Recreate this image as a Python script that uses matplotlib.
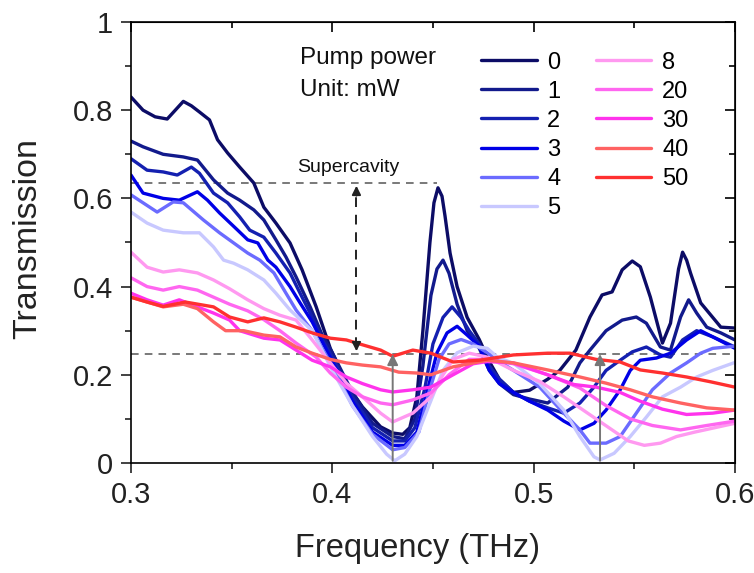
import numpy as np
import matplotlib
matplotlib.use("Agg")
import matplotlib.pyplot as plt

plt.rcParams['font.family'] = ['Liberation Sans', 'DejaVu Sans']

powers = ["0", "1", "2", "3", "4", "5", "8", "20", "30", "40", "50"]
colors = ['#0c0c66', '#121a8c', '#1420b0', '#0000e6', '#6b6bff', '#c8c8ff',
          '#ff99f0', '#ff66f0', '#ff33ec', '#ff6262', '#ff3030']

x0 = [0.300, 0.306, 0.312, 0.318, 0.322, 0.326, 0.330, 0.334, 0.339, 0.343, 0.348, 0.354, 0.361, 0.366,
      0.372, 0.379, 0.385, 0.392, 0.399, 0.407, 0.415, 0.424, 0.430, 0.435, 0.4385, 0.442, 0.445, 0.4485,
      0.4505, 0.4525, 0.4545, 0.456, 0.4585, 0.462, 0.467, 0.473, 0.478, 0.483, 0.490, 0.498, 0.507, 0.513,
      0.521, 0.528, 0.534, 0.539, 0.544, 0.549, 0.553, 0.558, 0.564, 0.568, 0.572, 0.574, 0.576, 0.578,
      0.583, 0.593, 0.600]
y0 = [0.83, 0.80, 0.785, 0.78, 0.80, 0.82, 0.81, 0.796, 0.778, 0.733, 0.703, 0.671, 0.635, 0.58,
      0.544, 0.499, 0.438, 0.354, 0.26, 0.18, 0.127, 0.082, 0.068, 0.065, 0.08, 0.15, 0.30, 0.50,
      0.59, 0.624, 0.605, 0.56, 0.476, 0.40, 0.33, 0.28, 0.23, 0.19, 0.16, 0.165, 0.19, 0.21,
      0.256, 0.331, 0.381, 0.388, 0.438, 0.458, 0.445, 0.376, 0.272, 0.317, 0.44, 0.478, 0.46, 0.43,
      0.363, 0.308, 0.306]

x1 = [0.300, 0.306, 0.316, 0.326, 0.333, 0.341, 0.348, 0.354, 0.361, 0.366, 0.372, 0.377, 0.382, 0.389,
      0.395, 0.400, 0.410, 0.420, 0.430, 0.436, 0.441, 0.445, 0.449, 0.452, 0.455, 0.458, 0.462, 0.467,
      0.473, 0.478, 0.483, 0.490, 0.498, 0.507, 0.517, 0.523, 0.528, 0.536, 0.544, 0.551, 0.556, 0.563,
      0.568, 0.573, 0.577, 0.581, 0.586, 0.593, 0.600]
y1 = [0.73, 0.717, 0.70, 0.694, 0.687, 0.642, 0.612, 0.596, 0.574, 0.551, 0.506, 0.467, 0.422, 0.354,
      0.29, 0.25, 0.16, 0.09, 0.06, 0.055, 0.10, 0.22, 0.38, 0.44, 0.46, 0.43, 0.36, 0.30,
      0.26, 0.21, 0.18, 0.155, 0.145, 0.136, 0.172, 0.227, 0.256, 0.30, 0.324, 0.331, 0.317, 0.263,
      0.256, 0.331, 0.37, 0.34, 0.308, 0.295, 0.279]

x2 = [0.300, 0.308, 0.316, 0.323, 0.330, 0.334, 0.341, 0.348, 0.354, 0.359, 0.366, 0.372, 0.379, 0.384,
      0.389, 0.395, 0.400, 0.410, 0.420, 0.430, 0.436, 0.441, 0.446, 0.450, 0.455, 0.4595, 0.464, 0.468,
      0.473, 0.478, 0.483, 0.490, 0.498, 0.507, 0.515, 0.523, 0.530, 0.536, 0.543, 0.549, 0.556, 0.563,
      0.568, 0.574, 0.581, 0.589, 0.600]
y2 = [0.69, 0.664, 0.66, 0.653, 0.671, 0.657, 0.612, 0.59, 0.558, 0.528, 0.512, 0.476, 0.431, 0.385,
      0.34, 0.28, 0.24, 0.15, 0.08, 0.05, 0.05, 0.08, 0.17, 0.27, 0.33, 0.354, 0.33, 0.30,
      0.27, 0.22, 0.19, 0.16, 0.14, 0.125, 0.113, 0.136, 0.172, 0.21, 0.233, 0.252, 0.263, 0.245,
      0.24, 0.279, 0.30, 0.286, 0.263]

x3 = [0.300, 0.306, 0.316, 0.324, 0.333, 0.338, 0.344, 0.353, 0.358, 0.363, 0.368, 0.372, 0.379, 0.384,
      0.390, 0.400, 0.410, 0.420, 0.430, 0.436, 0.442, 0.447, 0.452, 0.457, 0.462, 0.467, 0.473, 0.478,
      0.483, 0.490, 0.498, 0.507, 0.515, 0.523, 0.530, 0.536, 0.543, 0.548, 0.553, 0.561, 0.568, 0.576,
      0.583, 0.589, 0.600]
y3 = [0.653, 0.612, 0.60, 0.596, 0.615, 0.596, 0.567, 0.528, 0.506, 0.499, 0.46, 0.444, 0.40, 0.363,
      0.32, 0.23, 0.14, 0.07, 0.04, 0.04, 0.07, 0.16, 0.25, 0.295, 0.31, 0.29, 0.265, 0.21,
      0.18, 0.16, 0.14, 0.12, 0.095, 0.075, 0.09, 0.12, 0.166, 0.21, 0.233, 0.238, 0.249, 0.279,
      0.30, 0.286, 0.26]

x4 = [0.300, 0.306, 0.313, 0.321, 0.326, 0.336, 0.344, 0.351, 0.358, 0.364, 0.371, 0.377, 0.382, 0.390,
      0.400, 0.410, 0.420, 0.430, 0.436, 0.443, 0.448, 0.453, 0.458, 0.464, 0.470, 0.477, 0.483, 0.490,
      0.503, 0.515, 0.523, 0.528, 0.536, 0.543, 0.551, 0.559, 0.568, 0.576, 0.583, 0.589, 0.600]
y4 = [0.608, 0.59, 0.569, 0.592, 0.59, 0.551, 0.522, 0.499, 0.476, 0.46, 0.431, 0.385, 0.347, 0.30,
      0.22, 0.13, 0.065, 0.03, 0.035, 0.07, 0.16, 0.235, 0.27, 0.28, 0.27, 0.25, 0.23, 0.21,
      0.172, 0.113, 0.075, 0.045, 0.045, 0.06, 0.113, 0.166, 0.204, 0.227, 0.249, 0.26, 0.265]

x5 = [0.300, 0.308, 0.316, 0.326, 0.334, 0.341, 0.346, 0.351, 0.358, 0.366, 0.372, 0.379, 0.390, 0.400,
      0.410, 0.420, 0.427, 0.431, 0.436, 0.442, 0.448, 0.455, 0.462, 0.470, 0.477, 0.482, 0.490, 0.503,
      0.515, 0.523, 0.530, 0.533, 0.540, 0.548, 0.556, 0.564, 0.573, 0.581, 0.589, 0.600]
y5 = [0.569, 0.544, 0.528, 0.522, 0.522, 0.49, 0.46, 0.453, 0.438, 0.415, 0.385, 0.347, 0.30, 0.21,
      0.13, 0.06, 0.02, 0.005, 0.02, 0.06, 0.13, 0.21, 0.25, 0.265, 0.26, 0.24, 0.226, 0.18,
      0.12, 0.06, 0.014, 0.007, 0.022, 0.06, 0.104, 0.15, 0.172, 0.195, 0.21, 0.228]

x8 = [0.300, 0.308, 0.316, 0.324, 0.333, 0.341, 0.349, 0.358, 0.366, 0.374, 0.382, 0.390, 0.399, 0.407,
      0.415, 0.424, 0.430, 0.440, 0.449, 0.455, 0.460, 0.468, 0.477, 0.490, 0.503, 0.515, 0.523, 0.531,
      0.539, 0.547, 0.555, 0.563, 0.571, 0.580, 0.590, 0.600]
y8 = [0.478, 0.444, 0.433, 0.438, 0.431, 0.415, 0.395, 0.37, 0.35, 0.335, 0.324, 0.279, 0.227, 0.181,
      0.15, 0.113, 0.093, 0.113, 0.15, 0.20, 0.235, 0.249, 0.24, 0.21, 0.185, 0.15, 0.125, 0.10,
      0.075, 0.05, 0.04, 0.045, 0.06, 0.07, 0.08, 0.09]

x20 = [0.300, 0.308, 0.316, 0.324, 0.333, 0.341, 0.349, 0.358, 0.366, 0.374, 0.382, 0.392, 0.399, 0.407,
       0.415, 0.424, 0.430, 0.440, 0.449, 0.458, 0.468, 0.477, 0.490, 0.507, 0.523, 0.536, 0.548, 0.559,
       0.573, 0.586, 0.600]
y20 = [0.42, 0.40, 0.392, 0.40, 0.392, 0.376, 0.36, 0.345, 0.325, 0.30, 0.272, 0.24, 0.204, 0.172,
       0.15, 0.136, 0.132, 0.143, 0.159, 0.20, 0.235, 0.235, 0.225, 0.20, 0.17, 0.13, 0.10, 0.085,
       0.075, 0.085, 0.095]

x30 = [0.300, 0.308, 0.316, 0.324, 0.333, 0.341, 0.349, 0.354, 0.366, 0.374, 0.382, 0.390, 0.399, 0.407,
       0.415, 0.424, 0.430, 0.440, 0.449, 0.460, 0.470, 0.477, 0.490, 0.507, 0.520, 0.531, 0.543, 0.553,
       0.564, 0.576, 0.589, 0.600]
y30 = [0.385, 0.37, 0.358, 0.37, 0.354, 0.34, 0.324, 0.30, 0.283, 0.279, 0.256, 0.233, 0.218, 0.195,
       0.18, 0.166, 0.161, 0.166, 0.172, 0.20, 0.225, 0.23, 0.227, 0.20, 0.178, 0.172, 0.16, 0.14,
       0.122, 0.11, 0.113, 0.12]

x40 = [0.300, 0.308, 0.316, 0.326, 0.333, 0.341, 0.347, 0.356, 0.366, 0.374, 0.382, 0.390, 0.399, 0.407,
       0.415, 0.424, 0.433, 0.442, 0.449, 0.460, 0.477, 0.490, 0.507, 0.523, 0.536, 0.548, 0.559, 0.573,
       0.586, 0.600]
y40 = [0.376, 0.365, 0.354, 0.36, 0.35, 0.32, 0.30, 0.30, 0.29, 0.286, 0.263, 0.249, 0.235, 0.227,
       0.222, 0.218, 0.206, 0.204, 0.20, 0.218, 0.233, 0.227, 0.211, 0.195, 0.181, 0.166, 0.15, 0.136,
       0.125, 0.12]

x50 = [0.300, 0.308, 0.316, 0.327, 0.341, 0.349, 0.358, 0.366, 0.374, 0.382, 0.390, 0.399, 0.407, 0.415,
       0.424, 0.430, 0.440, 0.449, 0.460, 0.473, 0.490, 0.507, 0.518, 0.531, 0.543, 0.553, 0.564, 0.576,
       0.588, 0.600]
y50 = [0.376, 0.365, 0.355, 0.365, 0.354, 0.331, 0.32, 0.329, 0.32, 0.308, 0.295, 0.283, 0.279, 0.268,
       0.256, 0.242, 0.256, 0.249, 0.229, 0.233, 0.245, 0.249, 0.249, 0.235, 0.229, 0.211, 0.204, 0.195,
       0.184, 0.172]

xs = [x0, x1, x2, x3, x4, x5, x8, x20, x30, x40, x50]
ys = [y0, y1, y2, y3, y4, y5, y8, y20, y30, y40, y50]

fig = plt.figure(figsize=(7.54, 5.73), dpi=100)
ax = fig.add_axes([0.1737, 0.192, 0.801, 0.7696])

for x, y, c, p in zip(xs, ys, colors, powers):
    ax.plot(x, y, color=c, lw=2.4, label=p, solid_joinstyle='round', solid_capstyle='round')

# guide lines and arrows
gc = '#555555'
ax.plot([0.3, 0.452], [0.635, 0.635], ls=(0, (5, 4)), color=gc, lw=1.1, zorder=1)
ax.plot([0.3, 0.6], [0.247, 0.247], ls=(0, (5, 4)), color=gc, lw=1.1, zorder=1)
ax.plot([0.412, 0.412], [0.262, 0.62], ls=(0, (5, 4)), color='#222222', lw=1.4, zorder=5)
ax.annotate('', xy=(0.412, 0.635), xytext=(0.412, 0.60),
            arrowprops=dict(arrowstyle='-|>', color='#222222', lw=1.4, mutation_scale=13))
ax.annotate('', xy=(0.412, 0.247), xytext=(0.412, 0.28),
            arrowprops=dict(arrowstyle='-|>', color='#222222', lw=1.4, mutation_scale=13))
for xa, yb in [(0.430, 0.005), (0.533, 0.005)]:
    ax.annotate('', xy=(xa, 0.247), xytext=(xa, yb),
                arrowprops=dict(arrowstyle='-|>', color='#777777', lw=1.4, mutation_scale=16,
                                shrinkA=0, shrinkB=0))

ax.text(0.3825, 0.671, 'Supercavity', fontsize=14, va='center', color='#111111')
ax.text(0.384, 0.918, 'Pump power', fontsize=17.5, va='center', color='#111111')
ax.text(0.384, 0.846, 'Unit: mW', fontsize=17.5, va='center', color='#111111')

ax.legend(ncol=2, frameon=False, fontsize=17, loc='upper left', bbox_to_anchor=(0.58, 0.933),
          handlelength=2.35, handletextpad=0.45, columnspacing=1.5, labelspacing=0.3,
          borderpad=0, borderaxespad=0)

ax.set_xlim(0.3, 0.6)
ax.set_ylim(0, 1)
ax.set_xticks([0.3, 0.4, 0.5, 0.6])
ax.set_xticklabels(['0.3', '0.4', '0.5', '0.6'])
ax.set_yticks([0, 0.2, 0.4, 0.6, 0.8, 1.0])
ax.set_yticklabels(['0', '0.2', '0.4', '0.6', '0.8', '1'])
ax.set_xticks([0.35, 0.45, 0.55], minor=True)
ax.set_yticks([0.1, 0.3, 0.5, 0.7, 0.9], minor=True)
ax.tick_params(which='both', direction='out', width=1.2, labelsize=21, colors='#222222', pad=6)
ax.tick_params(which='major', length=7)
ax.tick_params(which='minor', length=4)
for s in ax.spines.values():
    s.set_linewidth(1.2)

top = ax.secondary_xaxis('top')
top.set_xticks([0.3, 0.4, 0.5, 0.6])
top.set_xticks([0.35, 0.45, 0.55], minor=True)
top.tick_params(which='both', direction='in', labeltop=False, width=1.2)
top.tick_params(which='major', length=7)
top.tick_params(which='minor', length=4)
right = ax.secondary_yaxis('right')
right.set_yticks([0, 0.2, 0.4, 0.6, 0.8, 1.0])
right.set_yticks([0.1, 0.3, 0.5, 0.7, 0.9], minor=True)
right.tick_params(which='both', direction='in', labelright=False, width=1.2)
right.tick_params(which='major', length=7)
right.tick_params(which='minor', length=4)

ax.set_xlabel('Frequency (THz)', fontsize=23.5, color='#222222', va='center')
ax.xaxis.set_label_coords(0.475, -0.193)
ax.set_ylabel('Transmission', fontsize=24.5, color='#222222', va='center')
ax.yaxis.set_label_coords(-0.171, 0.51)

fig.savefig('out.png', dpi=100)
